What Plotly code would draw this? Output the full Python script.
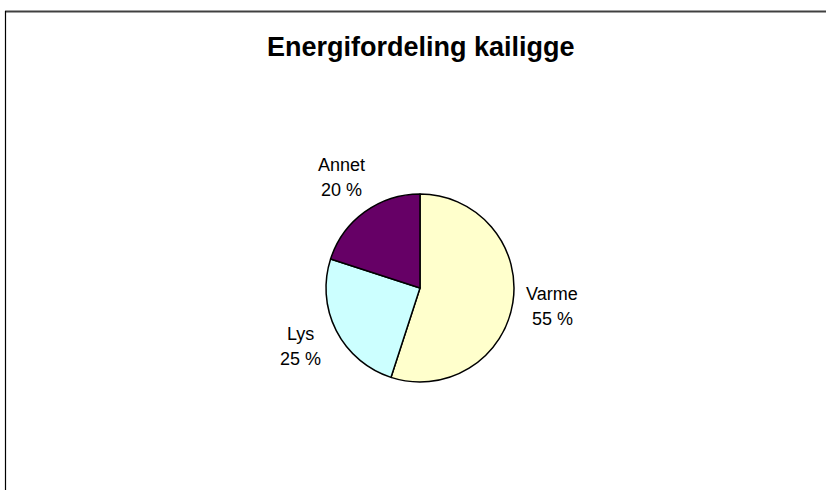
import math
import plotly.graph_objects as go

W, H = 826, 490

categories = ["Varme", "Lys", "Annet"]
values = [55, 25, 20]
colors = ["#FFFFCC", "#CCFFFF", "#660066"]
title_text = "Energifordeling kailigge"

# pie geometry (pixels)
cx, cy, r = 420, 288, 94
label_r = 134

fig = go.Figure(go.Pie(
    labels=categories,
    values=values,
    sort=False,
    direction="clockwise",
    rotation=0,
    marker=dict(colors=colors, line=dict(color="black", width=1.5)),
    textinfo="none",
    hoverinfo="label+percent",
    showlegend=False,
    domain=dict(x=[(cx - 170) / W, (cx + 170) / W],
                y=[1 - (cy + r) / H, 1 - (cy - r) / H]),
))

font = dict(family="Liberation Sans, Arial", size=18, color="black")
annotations = []
total = sum(values)
cum = 0
for name, v in zip(categories, values):
    mid = (cum + v / 2) / total * 2 * math.pi
    cum += v
    lx = cx + label_r * math.sin(mid)
    ly = cy - label_r * math.cos(mid) - 2
    annotations.append(dict(x=lx / W, y=1 - (ly - 12.5) / H, xref="paper", yref="paper",
                            text=name, showarrow=False, xanchor="center", yanchor="middle",
                            font=font))
    annotations.append(dict(x=lx / W, y=1 - (ly + 12.5) / H, xref="paper", yref="paper",
                            text=f"{round(v / total * 100)} %", showarrow=False,
                            xanchor="center", yanchor="middle", font=font))

annotations.append(dict(x=421 / W, y=1 - 47 / H, xref="paper", yref="paper",
                        text=f"<b>{title_text}</b>", showarrow=False,
                        xanchor="center", yanchor="middle",
                        font=dict(family="Liberation Sans, Arial", size=27, color="black")))

shapes = [
    dict(type="line", xref="paper", yref="paper", x0=5 / W, x1=1, y0=1 - 11.5 / H, y1=1 - 11.5 / H,
         line=dict(color="#404040", width=2)),
    dict(type="line", xref="paper", yref="paper", x0=5.5 / W, x1=5.5 / W, y0=0, y1=1 - 11 / H,
         line=dict(color="black", width=1.2)),
]

fig.update_layout(
    width=W, height=H,
    margin=dict(l=0, r=0, t=0, b=0),
    paper_bgcolor="white", plot_bgcolor="white",
    annotations=annotations,
    shapes=shapes,
)

fig.write_html("out.html", config={"displayModeBar": False},
               post_script="document.body.style.margin='0';document.body.style.overflow='hidden';")
